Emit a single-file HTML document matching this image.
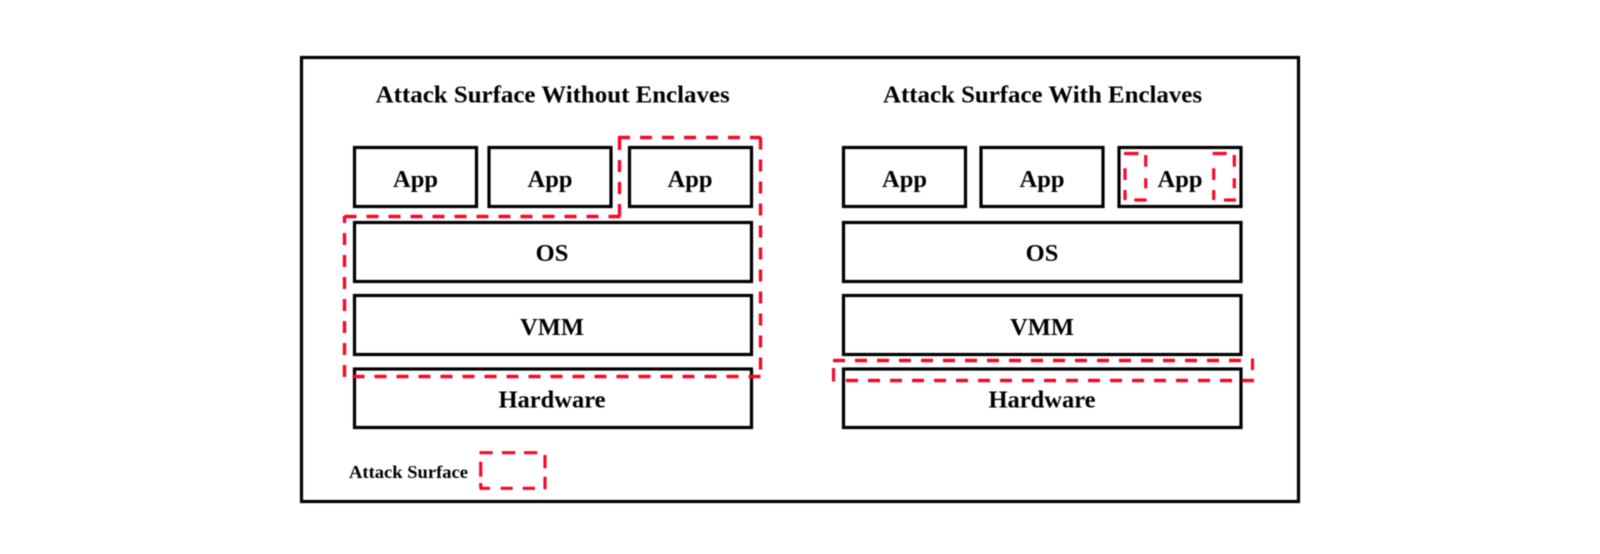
<!DOCTYPE html>
<html><head><meta charset="utf-8"><style>
html,body{margin:0;padding:0;background:#fff;width:1600px;height:554px;overflow:hidden}
svg{display:block;filter:blur(.55px)}
text{font-family:"Liberation Serif",serif;font-weight:bold;fill:#000;text-anchor:middle}
.b{fill:none;stroke:#000;stroke-width:3.2}
.r{fill:none;stroke:#f5082a;stroke-width:3.4;stroke-dasharray:12 10}
.s{fill:none;stroke:#f5082a;stroke-width:3.2}
</style></head><body>
<svg width="1600" height="554" viewBox="0 0 1600 554" xmlns="http://www.w3.org/2000/svg">
<rect class="b" x="301.5" y="57.5" width="997" height="444"/>
<text x="552.7" y="102.5" font-size="24.5" textLength="354" lengthAdjust="spacingAndGlyphs">Attack Surface Without Enclaves</text>
<text x="1042.5" y="102.5" font-size="24.5" textLength="319" lengthAdjust="spacingAndGlyphs">Attack Surface With Enclaves</text>

<rect class="b" x="354.5" y="147.5" width="122" height="59"/>
<rect class="b" x="489" y="147.5" width="122" height="59"/>
<rect class="b" x="629.5" y="147.5" width="122" height="59"/>
<rect class="b" x="354.5" y="222.5" width="397" height="59"/>
<rect class="b" x="354.5" y="295.5" width="397" height="59"/>
<rect class="b" x="354.5" y="369" width="397" height="58.5"/>
<text x="415.5" y="187" font-size="24.5">App</text>
<text x="550" y="187" font-size="24.5">App</text>
<text x="690" y="187" font-size="24.5">App</text>
<text x="552" y="261" font-size="24.5">OS</text>
<text x="552" y="335" font-size="24.5">VMM</text>
<text x="552" y="407.5" font-size="24.5">Hardware</text>

<rect class="b" x="843.5" y="147.5" width="122" height="59"/>
<rect class="b" x="981" y="147.5" width="122" height="59"/>
<rect class="b" x="1119" y="147.5" width="122" height="59"/>
<rect class="b" x="843.5" y="222.5" width="397.5" height="59"/>
<rect class="b" x="843.5" y="295.5" width="397.5" height="59"/>
<rect class="b" x="843.5" y="369" width="397.5" height="58.5"/>
<text x="904.5" y="187" font-size="24.5">App</text>
<text x="1042" y="187" font-size="24.5">App</text>
<text x="1180" y="187" font-size="24.5">App</text>
<text x="1042" y="261" font-size="24.5">OS</text>
<text x="1042" y="335" font-size="24.5">VMM</text>
<text x="1042" y="407.5" font-size="24.5">Hardware</text>

<path class="r" d="M618 137.5H761"/>
<path class="r" d="M760.5 137.5V376"/>
<path class="r" d="M760.5 376.5H344"/>
<path class="r" d="M344.5 377V216"/>
<path class="r" d="M620.5 216.5H344"/>
<path class="r" d="M619.5 216V137"/>

<path class="r" d="M833 360.5H1242"/>
<path class="r" d="M1254 380.5H840"/>
<path class="s" d="M1252.5 358.5V370M833.5 368V381.5"/>

<path class="s" d="M1124 153.5H1138.5M1145.7 155V166.7M1145.7 178.3V188.3M1134.3 200H1146.7M1125 168.3V180M1125 190V200"/>
<path class="s" d="M1212.7 153.5H1226.7M1234.3 155V166.7M1234.3 178.3V188.3M1224 200H1236M1213.7 168.3V180M1213.7 190V200"/>
<path class="s" d="M479.5 452.7H492.7M502 452.7H515.3M524 452.7H537.3M545 455V468.3M545 476.7V489.3M479.5 488.3H490M500.7 488.3H512.7M522.7 488.3H535M480.7 461.7V476.7M480.7 483V488"/>
<text x="408.5" y="478" font-size="17.5" textLength="119" lengthAdjust="spacingAndGlyphs">Attack Surface</text>
</svg>
</body></html>
